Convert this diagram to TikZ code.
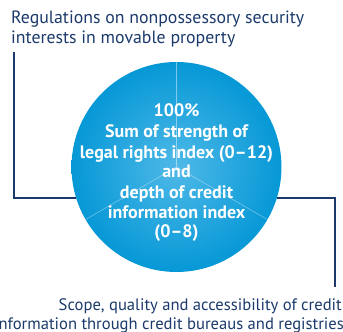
\documentclass[tikz,border=0pt]{standalone}
\usepackage{fontspec}
\setmainfont{PT Sans}
\definecolor{navy}{HTML}{1B3A6B}
\definecolor{blueedge}{HTML}{0698D6}
\definecolor{bluecenter}{HTML}{4FB9E8}
\begin{document}
\begin{tikzpicture}[x=1pt,y=-1pt,
  toptext/.style={text=navy, font=\fontsize{17.8}{20}\selectfont, inner sep=0pt, anchor=base west},
  bottext/.style={text=navy, font=\fontsize{16.6}{18.7}\selectfont, inner sep=0pt, anchor=base east},
  coretext/.style={text=white, font=\bfseries\fontsize{18}{20.2}\selectfont, inner sep=0pt, anchor=base},
  conn/.style={draw=navy, line width=1.8pt},
  divider/.style={draw=white, draw opacity=0.45, line width=0.5pt}]
\useasboundingbox (0,0) rectangle (343,332);
\begin{scope}
\clip (0,0) rectangle (343,332);
\node[circle, minimum size=210pt, inner sep=0pt, inner color=bluecenter, outer color=blueedge] (disc) at (176.5,167) {};
\draw[divider] (disc.center) -- (disc.90);
\draw[divider] (disc.center) -- (disc.210);
\draw[divider] (disc.center) -- (disc.330);
\node[coretext] (c1) at (176.5,116.7) {100\%};
\node[coretext] (c2) at (176.5,137.5) {Sum of strength of};
\node[coretext] (c3) at (176.5,158) {legal rights index (0–12)};
\node[coretext] (c4) at (176.5,177.5) {and};
\node[coretext] (c5) at (176.5,198.3) {depth of credit};
\node[coretext] (c6) at (176.5,218.3) {information index};
\node[coretext] (c7) at (176.5,237.5) {(0–8)};
\node[toptext] (top1) at (11,23.3) {Regulations on nonpossessory security};
\node[toptext] (top2) at (11,43.3) {interests in movable property};
\node[bottext] (bot1) at (342,310.7) {Scope, quality and accessibility of credit};
\node[bottext] (bot2) at (344,329.3) {information through credit bureaus and registries};
\coordinate (topend) at (14,52);
\coordinate (botend) at (335,287);
\draw[conn] (topend) |- (disc.197.7);
\draw[conn] (disc.-17.2) -| (botend);
\end{scope}
\end{tikzpicture}
\end{document}
